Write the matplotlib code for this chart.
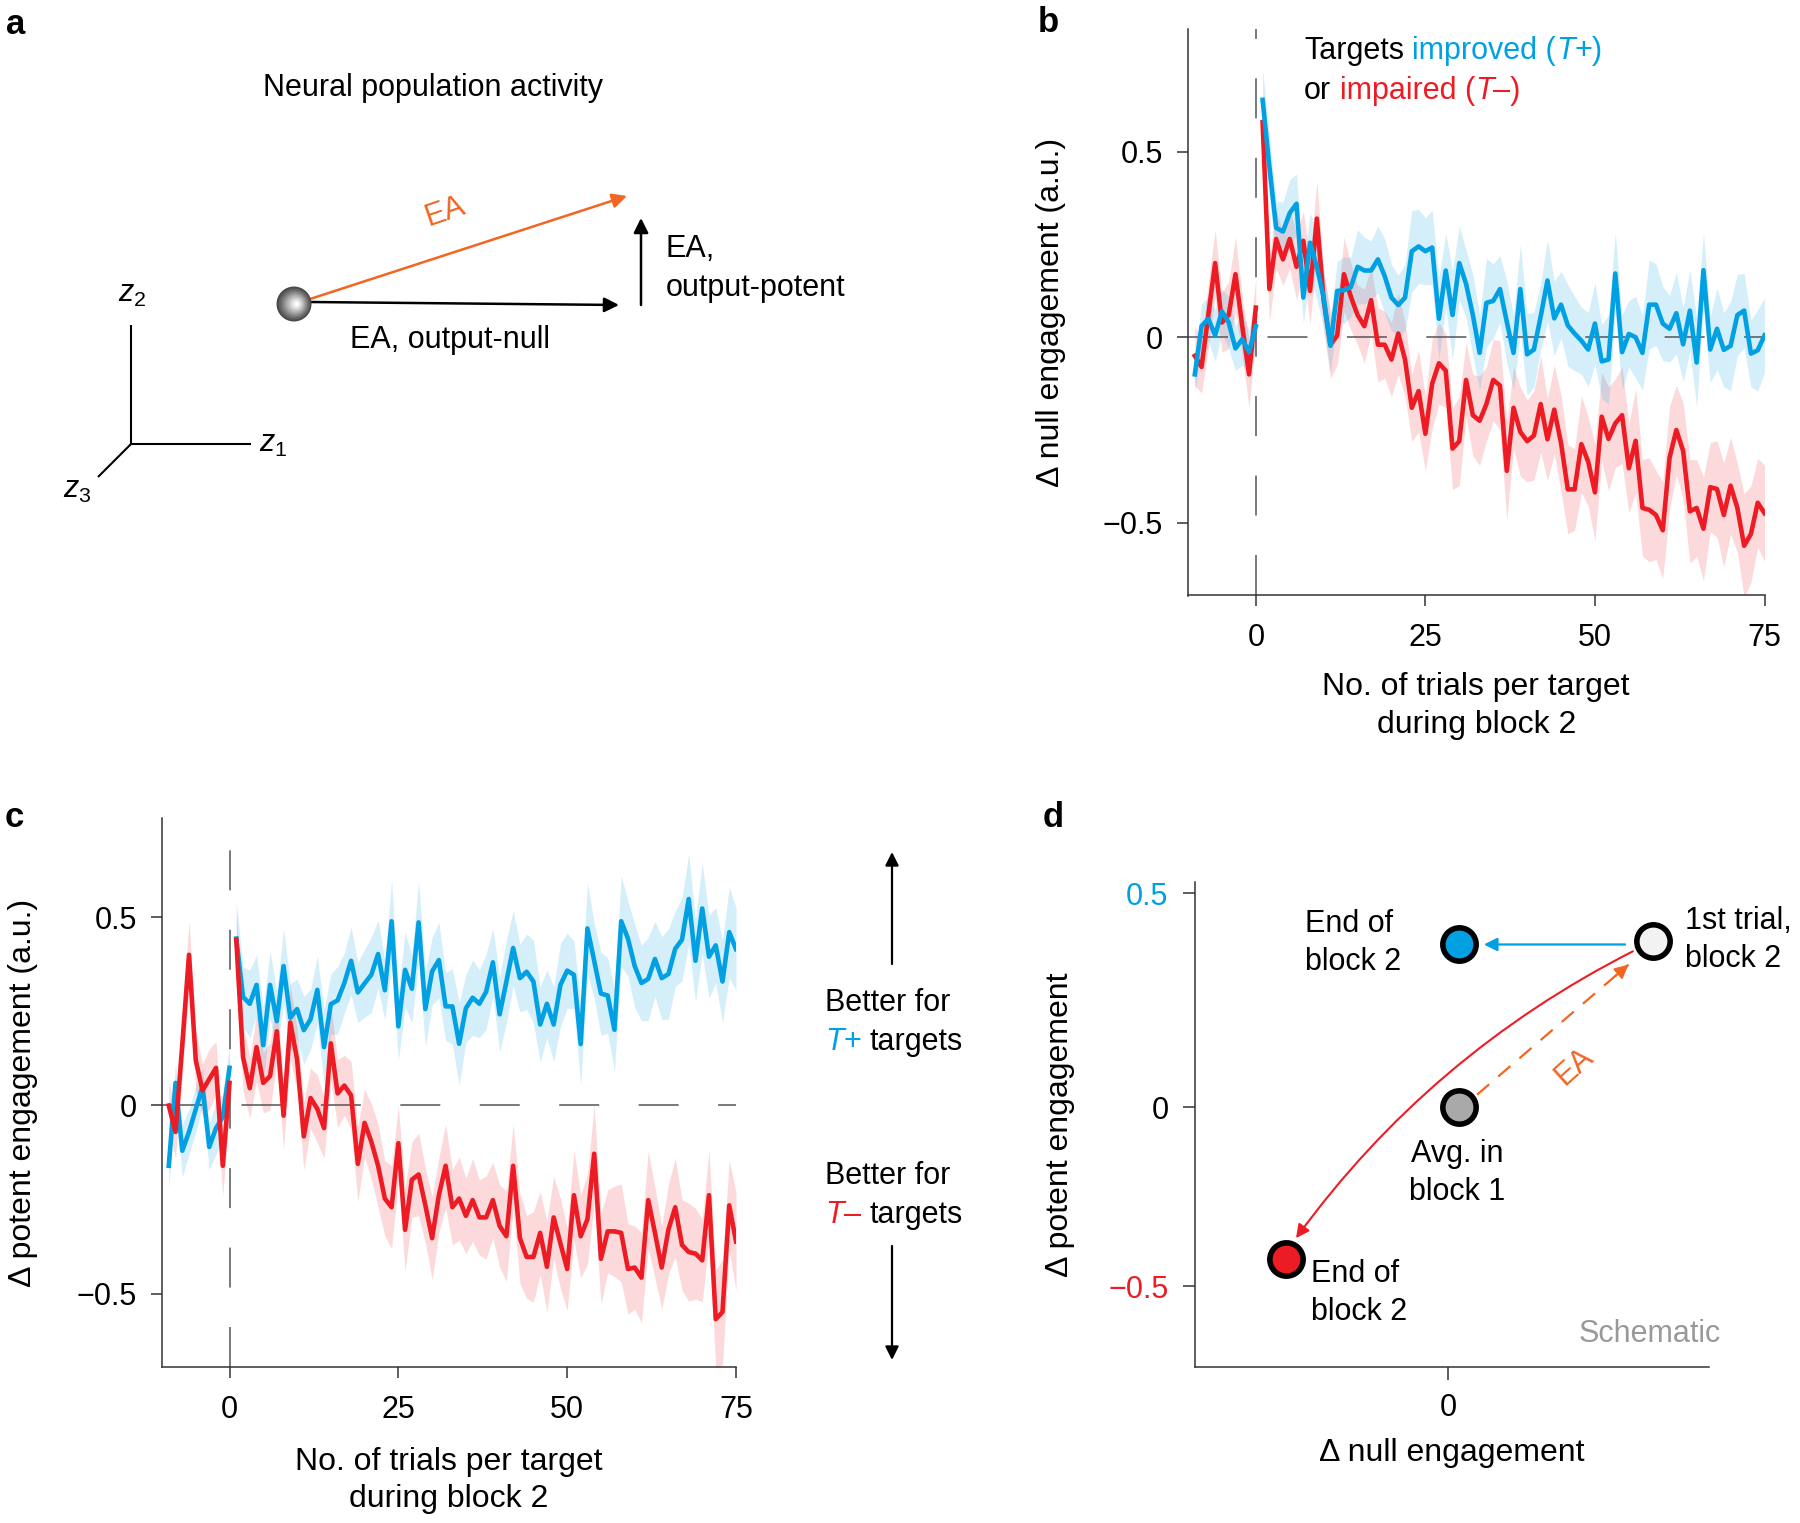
import numpy as np
import matplotlib
matplotlib.use('Agg')
import matplotlib.pyplot as plt
from matplotlib.patches import Circle

plt.rcParams['font.family'] = ['Liberation Sans', 'DejaVu Sans']
plt.rcParams['mathtext.fontset'] = 'custom'
plt.rcParams['mathtext.rm'] = 'Liberation Sans'
plt.rcParams['mathtext.it'] = 'Liberation Sans:italic'
plt.rcParams['lines.scale_dashes'] = False

# ---------------- data ----------------
trial_pre = list(range(-9, 1))
trial_post = list(range(1, 76))

# panel b: delta null engagement
null_tplus_pre = [-0.10, 0.03, 0.05, 0.005, 0.07, 0.04, -0.03, -0.005, -0.04, 0.03]
null_tplus_post = [0.64, 0.46, 0.295, 0.285, 0.335, 0.36, 0.107, 0.255, 0.19, 0.107,
                   -0.023, 0.125, 0.127, 0.135, 0.19, 0.18, 0.18, 0.21, 0.165, 0.107,
                   0.087, 0.107, 0.232, 0.245, 0.232, 0.242, 0.05, 0.18, 0.06, 0.20,
                   0.144, 0.06, -0.042, 0.093, 0.098, 0.13, 0.042, -0.042, 0.13, -0.046,
                   -0.033, 0.056, 0.153, 0.051, 0.088, 0.032, 0.01, -0.009, -0.033, 0.037,
                   -0.065, -0.06, 0.172, -0.04, 0.009, 0.0, -0.042, 0.088, 0.088, 0.037,
                   0.023, 0.065, -0.019, 0.072, -0.068, 0.181, -0.033, 0.023, -0.034, -0.023,
                   0.06, 0.072, -0.044, -0.035, 0.005]
null_tminus_pre = [-0.05, -0.08, 0.06, 0.20, 0.04, 0.06, 0.17, 0.03, -0.10, 0.08]
null_tminus_post = [0.58, 0.13, 0.265, 0.21, 0.265, 0.19, 0.26, 0.125, 0.32, 0.10,
                    -0.02, 0.005, 0.17, 0.11, 0.06, 0.03, 0.10, -0.02, -0.02, -0.06,
                    0.01, -0.06, -0.19, -0.145, -0.26, -0.125, -0.07, -0.09, -0.30, -0.28,
                    -0.115, -0.21, -0.225, -0.18, -0.115, -0.13, -0.36, -0.19, -0.255, -0.28,
                    -0.265, -0.18, -0.275, -0.195, -0.285, -0.41, -0.41, -0.288, -0.335, -0.418,
                    -0.214, -0.274, -0.232, -0.21, -0.353, -0.279, -0.46, -0.465, -0.479, -0.52,
                    -0.325, -0.25, -0.306, -0.469, -0.46, -0.516, -0.404, -0.409, -0.479, -0.40,
                    -0.46, -0.562, -0.53, -0.446, -0.474]
null_tplus_sem_pre = [0.05, 0.06, 0.06, 0.07, 0.06, 0.07, 0.06, 0.07, 0.06, 0.06]
null_tplus_sem_post = [0.08, 0.09, 0.07, 0.08, 0.09, 0.08, 0.07, 0.08, 0.09, 0.08,
                       0.07, 0.08, 0.09, 0.08, 0.10, 0.09, 0.08, 0.09, 0.10, 0.09,
                       0.08, 0.09, 0.11, 0.10, 0.09, 0.10, 0.11, 0.10, 0.12, 0.10,
                       0.09, 0.11, 0.10, 0.12, 0.10, 0.09, 0.11, 0.10, 0.12, 0.11,
                       0.10, 0.09, 0.11, 0.10, 0.09, 0.11, 0.10, 0.09, 0.10, 0.11,
                       0.10, 0.12, 0.11, 0.10, 0.09, 0.11, 0.10, 0.12, 0.11, 0.10,
                       0.09, 0.11, 0.10, 0.11, 0.12, 0.10, 0.09, 0.11, 0.10, 0.12,
                       0.11, 0.10, 0.09, 0.11, 0.10]
null_tminus_sem_pre = [0.08, 0.07, 0.09, 0.09, 0.08, 0.09, 0.10, 0.08, 0.09, 0.08]
null_tminus_sem_post = [0.08, 0.09, 0.08, 0.07, 0.08, 0.09, 0.08, 0.09, 0.10, 0.08,
                        0.09, 0.08, 0.10, 0.09, 0.08, 0.10, 0.09, 0.10, 0.09, 0.10,
                        0.11, 0.10, 0.09, 0.11, 0.10, 0.12, 0.11, 0.10, 0.11, 0.12,
                        0.10, 0.11, 0.12, 0.10, 0.11, 0.12, 0.13, 0.11, 0.12, 0.11,
                        0.12, 0.13, 0.11, 0.12, 0.13, 0.12, 0.11, 0.13, 0.12, 0.13,
                        0.12, 0.14, 0.12, 0.13, 0.12, 0.14, 0.13, 0.14, 0.12, 0.13,
                        0.14, 0.12, 0.13, 0.14, 0.13, 0.14, 0.12, 0.13, 0.14, 0.13,
                        0.12, 0.14, 0.13, 0.12, 0.13]

# panel c: delta potent engagement
pot_tplus_pre = [-0.16, 0.06, -0.12, -0.07, -0.01, 0.05, -0.11, -0.06, -0.03, 0.10]
pot_tplus_post = [0.443, 0.288, 0.27, 0.32, 0.16, 0.32, 0.224, 0.37, 0.233, 0.256,
                  0.20, 0.229, 0.307, 0.155, 0.269, 0.279, 0.325, 0.384, 0.30, 0.324,
                  0.347, 0.402, 0.306, 0.489, 0.21, 0.36, 0.31, 0.486, 0.256, 0.356,
                  0.386, 0.263, 0.263, 0.164, 0.258, 0.286, 0.27, 0.302, 0.38, 0.242,
                  0.329, 0.418, 0.338, 0.355, 0.329, 0.215, 0.27, 0.215, 0.32, 0.358,
                  0.347, 0.163, 0.47, 0.384, 0.297, 0.292, 0.201, 0.489, 0.443, 0.37,
                  0.325, 0.336, 0.389, 0.338, 0.349, 0.416, 0.44, 0.548, 0.384, 0.523,
                  0.395, 0.425, 0.329, 0.46, 0.415]
pot_tminus_pre = [0.0, -0.07, 0.16, 0.40, 0.12, 0.04, 0.07, 0.10, -0.16, 0.06]
pot_tminus_post = [0.44, 0.128, 0.046, 0.155, 0.06, 0.078, 0.197, -0.027, 0.22, 0.123,
                   -0.082, 0.02, -0.009, -0.06, 0.165, 0.032, 0.053, 0.027, -0.155, -0.046,
                   -0.096, -0.16, -0.247, -0.27, -0.10, -0.33, -0.197, -0.183, -0.265, -0.352,
                   -0.238, -0.16, -0.27, -0.247, -0.293, -0.251, -0.297, -0.297, -0.251, -0.32,
                   -0.347, -0.16, -0.352, -0.402, -0.402, -0.338, -0.428, -0.297, -0.366, -0.434,
                   -0.238, -0.347, -0.302, -0.128, -0.407, -0.334, -0.334, -0.338, -0.434, -0.43,
                   -0.457, -0.251, -0.338, -0.43, -0.329, -0.27, -0.37, -0.389, -0.393, -0.411,
                   -0.238, -0.567, -0.548, -0.265, -0.361]
pot_tplus_sem_pre = [0.06, 0.05, 0.07, 0.06, 0.06, 0.05, 0.06, 0.07, 0.06, 0.06]
pot_tplus_sem_post = [0.10, 0.08, 0.09, 0.08, 0.10, 0.09, 0.08, 0.10, 0.09, 0.08,
                      0.09, 0.08, 0.09, 0.10, 0.08, 0.09, 0.08, 0.09, 0.08, 0.09,
                      0.10, 0.09, 0.08, 0.11, 0.09, 0.10, 0.09, 0.11, 0.10, 0.09,
                      0.10, 0.09, 0.10, 0.11, 0.09, 0.10, 0.09, 0.10, 0.09, 0.10,
                      0.11, 0.10, 0.09, 0.10, 0.11, 0.10, 0.09, 0.10, 0.11, 0.10,
                      0.09, 0.11, 0.12, 0.10, 0.11, 0.10, 0.11, 0.12, 0.10, 0.11,
                      0.10, 0.11, 0.10, 0.11, 0.12, 0.10, 0.11, 0.12, 0.11, 0.12,
                      0.11, 0.10, 0.11, 0.12, 0.11]
pot_tminus_sem_pre = [0.06, 0.07, 0.08, 0.09, 0.08, 0.07, 0.08, 0.07, 0.08, 0.07]
pot_tminus_sem_post = [0.08, 0.09, 0.08, 0.09, 0.08, 0.09, 0.08, 0.09, 0.10, 0.08,
                       0.09, 0.08, 0.09, 0.08, 0.10, 0.09, 0.08, 0.09, 0.10, 0.09,
                       0.10, 0.11, 0.10, 0.11, 0.10, 0.11, 0.10, 0.11, 0.10, 0.11,
                       0.10, 0.11, 0.10, 0.11, 0.10, 0.11, 0.10, 0.11, 0.10, 0.11,
                       0.12, 0.11, 0.12, 0.11, 0.12, 0.11, 0.12, 0.11, 0.12, 0.11,
                       0.12, 0.11, 0.12, 0.13, 0.12, 0.11, 0.12, 0.13, 0.12, 0.11,
                       0.12, 0.13, 0.12, 0.11, 0.12, 0.13, 0.12, 0.13, 0.12, 0.11,
                       0.12, 0.13, 0.14, 0.12, 0.13]

# panel d: schematic states (null, potent)
state_names = ['avg_block1', 'first_trial', 'end_tplus', 'end_tminus']
state_null = [0.026, 0.479, 0.026, -0.379]
state_potent = [0.0, 0.387, 0.380, -0.424]
state_colors = ['#A9A9A9', '#F2F2F2', '#00A0E3', '#ED1C24']

# panel a: schematic geometry (pixel units of the figure)
sphere_xy = (294, 304)
z_origin = (131, 444)
z_ends = [(251, 444), (131, 325), (98, 477)]
null_arrow = [(310, 302), (619, 305)]
ea_arrow = [(310, 299), (627, 196)]
potent_arrow = [(641, 305), (641, 218)]

BLUE = '#00A0E3'
RED = '#ED1C24'
ORANGE = '#F26522'
DARK = '#333333'
FS = 22
LFS = 23
LSP = 1.34

W, H = 1800, 1523
fig = plt.figure(figsize=(W / 100, H / 100), dpi=100)


def rect(left, top, right, bottom):
    return [left / W, 1 - bottom / H, (right - left) / W, (bottom - top) / H]


def style_axes(ax):
    for side in ('top', 'right'):
        ax.spines[side].set_visible(False)
    for side in ('left', 'bottom'):
        ax.spines[side].set_linewidth(1.1)
        ax.spines[side].set_color(DARK)
    ax.tick_params(axis='both', length=8, width=1.1, color=DARK, labelsize=FS)
    ax.tick_params(axis='x', pad=12)
    ax.tick_params(axis='y', pad=10)


def draw_series(ax, x, y, sem, color, alpha):
    y = np.asarray(y)
    sem = np.asarray(sem)
    ax.fill_between(x, y - sem, y + sem, color=color, alpha=alpha, lw=0, zorder=1)
    ax.plot(x, y, color=color, lw=3.3, zorder=3)


def time_panel(ax, ylim, series, ylabel, ylab_x, xlab_y):
    ax.set_xlim(-10, 75)
    ax.set_ylim(*ylim)
    style_axes(ax)
    dash = (0, (28.8, 28.4))
    ax.axhline(0, color='#555555', lw=1.1, ls=dash, zorder=2)
    ax.axvline(0, color='#555555', lw=1.1, ls=dash, zorder=2)
    for pre, post, sem_pre, sem_post, color, alpha in series:
        draw_series(ax, trial_pre, pre, sem_pre, color, alpha)
        draw_series(ax, trial_post, post, sem_post, color, alpha)
    ax.set_xticks([0, 25, 50, 75])
    ax.set_yticks([-0.5, 0, 0.5])
    ax.set_yticklabels(['\u22120.5', '0', '0.5'])
    ax.set_xlabel('No. of trials per target\nduring block 2', fontsize=LFS,
                  linespacing=LSP, va='center')
    ax.xaxis.set_label_coords(0.5, xlab_y)
    ax.set_ylabel(ylabel, fontsize=LFS, va='center')
    ax.yaxis.set_label_coords(ylab_x, 0.5)


def chain_text(ax, x, y, pieces, **kw):
    # pieces: (text, color, italic, gap in points before)
    s, c, it, _ = pieces[0]
    t = ax.text(x, y, s, color=c, style='italic' if it else 'normal',
                ha='left', va='baseline', fontsize=FS, **kw)
    for s, c, it, gap in pieces[1:]:
        t = ax.annotate(s, xy=(1, 0), xycoords=t, xytext=(gap, 0),
                        textcoords='offset points', color=c,
                        style='italic' if it else 'normal',
                        ha='left', va='bottom', fontsize=FS)
    return t


# ---------------- panel b ----------------
ax_b = fig.add_axes(rect(1188, 29, 1764.5, 595.5))
time_panel(ax_b, (-0.696, 0.831),
           [(null_tminus_pre, null_tminus_post, null_tminus_sem_pre, null_tminus_sem_post, RED, 0.16),
            (null_tplus_pre, null_tplus_post, null_tplus_sem_pre, null_tplus_sem_post, BLUE, 0.17)],
           '\u0394 null engagement (a.u.)', -0.237, -0.195)

# ---------------- panel c ----------------
ax_c = fig.add_axes(rect(162, 818, 736, 1367))
time_panel(ax_c, (-0.694, 0.763),
           [(pot_tplus_pre, pot_tplus_post, pot_tplus_sem_pre, pot_tplus_sem_post, BLUE, 0.17),
            (pot_tminus_pre, pot_tminus_post, pot_tminus_sem_pre, pot_tminus_sem_post, RED, 0.16)],
           '\u0394 potent engagement (a.u.)', -0.243, -0.2066)

# ---------------- panel d ----------------
neg_ratio = 0.8364


def fwd(v):
    v = np.asarray(v, dtype=float)
    return np.where(v < 0, v * neg_ratio, v)


def inv(v):
    v = np.asarray(v, dtype=float)
    return np.where(v < 0, v / neg_ratio, v)


ax_d = fig.add_axes(rect(1195, 882, 1709, 1367))
ax_d.set_yscale('function', functions=(fwd, inv))
ax_d.set_xlim(-0.591, 0.610)
ax_d.set_ylim(-0.726, 0.526)
style_axes(ax_d)
ax_d.tick_params(axis='both', length=9)
ax_d.tick_params(axis='x', pad=10)
ax_d.set_xticks([0])
ax_d.set_xticklabels(['0'])
ax_d.set_yticks([-0.5, 0, 0.5])
ax_d.set_yticklabels(['\u22120.5', '0', '0.5'])
ytl = ax_d.get_yticklabels()
ytl[0].set_color(RED)
ytl[2].set_color(BLUE)
ax_d.set_xlabel('\u0394 null engagement', fontsize=LFS, va='center')
ax_d.xaxis.set_label_coords(0.5, -0.177)
ax_d.set_ylabel('\u0394 potent engagement', fontsize=LFS, va='center')
ax_d.yaxis.set_label_coords(-0.263, 0.5)

i_avg, i_first, i_plus, i_minus = 0, 1, 2, 3
# blue arrow: first trial -> end of block 2 for T+
ax_d.annotate('', xy=(state_null[i_plus] + 0.058, state_potent[i_plus]),
              xytext=(state_null[i_first] - 0.065, state_potent[i_plus]),
              arrowprops=dict(arrowstyle='-|>', color=BLUE, lw=1.6,
                              mutation_scale=20, shrinkA=0, shrinkB=0))
# red curved arrow: first trial -> end of block 2 for T-
ax_d.annotate('', xy=(-0.355, -0.366), xytext=(0.432, 0.364),
              arrowprops=dict(arrowstyle='-|>', color=RED, lw=1.5,
                              mutation_scale=20, shrinkA=0, shrinkB=0,
                              connectionstyle='arc3,rad=0.12'))
# orange dashed EA arrow
ea_tail = (0.068, 0.029)
ea_head = (0.422, 0.333)
ax_d.plot([ea_tail[0], ea_head[0]], [ea_tail[1], ea_head[1]], color=ORANGE,
          lw=1.6, ls=(0, (11.5, 8.6)))
ax_d.annotate('', xy=ea_head,
              xytext=(ea_head[0] - 0.03, ea_head[1] - 0.026),
              arrowprops=dict(arrowstyle='-|>', color=ORANGE, lw=1.6,
                              mutation_scale=20, shrinkA=0, shrinkB=0))
for xn, yp, col in zip(state_null, state_potent, state_colors):
    ax_d.plot(xn, yp, 'o', ms=24, mfc=col, mec='black', mew=4, zorder=5, clip_on=False)

# ---------------- overlay (panel a, letters, annotations) ----------------
ov = fig.add_axes([0, 0, 1, 1])
ov.set_xlim(0, W)
ov.set_ylim(H, 0)
ov.axis('off')
ov.patch.set_visible(False)

for letter, (lx, ly) in zip('abcd', [(6, 34), (1038, 32), (5, 827), (1043, 827)]):
    ov.text(lx, ly, letter, fontsize=25, fontweight='bold', ha='left', va='baseline')

# panel a
ov.text(433, 96, 'Neural population activity', fontsize=FS, ha='center', va='baseline')
for end in z_ends:
    ov.plot([z_origin[0], end[0]], [z_origin[1], end[1]], color='black', lw=1.5,
            solid_capstyle='butt')
ov.text(259, 452, r'$z_1$', fontsize=FS, ha='left', va='baseline')
ov.text(118, 302, r'$z_2$', fontsize=FS, ha='left', va='baseline')
ov.text(63, 498, r'$z_3$', fontsize=FS, ha='left', va='baseline')

arrow_kw = dict(arrowstyle='-|>', lw=1.8, mutation_scale=22, shrinkA=0, shrinkB=0)
ov.annotate('', xy=null_arrow[1], xytext=null_arrow[0],
            arrowprops=dict(color='black', **arrow_kw))
ov.annotate('', xy=ea_arrow[1], xytext=ea_arrow[0],
            arrowprops=dict(color=ORANGE, **arrow_kw))
ov.annotate('', xy=potent_arrow[1], xytext=potent_arrow[0],
            arrowprops=dict(color='black', **arrow_kw))

# shaded sphere
shades = ['#4a4a4a', '#5e5e5e', '#727272', '#888888', '#9e9e9e', '#b4b4b4',
          '#cacaca', '#dedede', '#f0f0f0', '#ffffff']
for k, col in enumerate(shades):
    r = 17.5 * (1 - k / len(shades))
    ov.add_patch(Circle((sphere_xy[0] + 3.0 * k / len(shades), sphere_xy[1]),
                        r, facecolor=col, edgecolor='none', zorder=4))

ov.text(445, 212, 'EA', color=ORANGE, fontsize=FS, rotation=19,
        ha='center', va='center')
ov.text(666, 257, 'EA,', fontsize=FS, ha='left', va='baseline')
ov.text(666, 296, 'output-potent', fontsize=FS, ha='left', va='baseline')
ov.text(450, 348, 'EA, output-null', fontsize=FS, ha='center', va='baseline')

# panel b legend
chain_text(ov, 1304, 59, [('Targets', 'black', False, 0),
                          ('improved (', BLUE, False, 6.1),
                          ('T', BLUE, True, 0),
                          ('+)', BLUE, False, 0)])
chain_text(ov, 1304, 99, [('or', 'black', False, 0),
                          ('impaired (', RED, False, 6.1),
                          ('T', RED, True, 0),
                          ('\u2013)', RED, False, 0)])

# panel c side annotations
side_kw = dict(arrowstyle='-|>', color='black', lw=1.6, mutation_scale=20,
               shrinkA=0, shrinkB=0)
ov.annotate('', xy=(892, 852), xytext=(892, 964), arrowprops=side_kw)
ov.annotate('', xy=(892, 1360), xytext=(892, 1246), arrowprops=side_kw)
ov.text(825, 1011, 'Better for', fontsize=FS, ha='left', va='baseline')
chain_text(ov, 825, 1050, [('T', BLUE, True, 0), ('+', BLUE, False, 0),
                           ('targets', 'black', False, 6.1)])
ov.text(825, 1184, 'Better for', fontsize=FS, ha='left', va='baseline')
chain_text(ov, 825, 1223, [('T', RED, True, 0), ('\u2013', RED, False, 0),
                           ('targets', 'black', False, 6.1)])

# panel d texts
ov.text(1305, 943, 'End of\nblock 2', fontsize=FS, ha='left', va='center', linespacing=LSP)
ov.text(1685, 940, '1st trial,\nblock 2', fontsize=FS, ha='left', va='center', linespacing=LSP)
ov.text(1457, 1173, 'Avg. in\nblock 1', fontsize=FS, ha='center', va='center', linespacing=LSP)
ov.text(1311, 1293, 'End of\nblock 2', fontsize=FS, ha='left', va='center', linespacing=LSP)
ov.text(1579, 1334, 'Schematic', fontsize=FS, color='#999999', ha='left', va='center')
ov.text(1574, 1066, 'EA', fontsize=FS, color=ORANGE, rotation=42, ha='center', va='center')

fig.savefig('out.png', dpi=100)
